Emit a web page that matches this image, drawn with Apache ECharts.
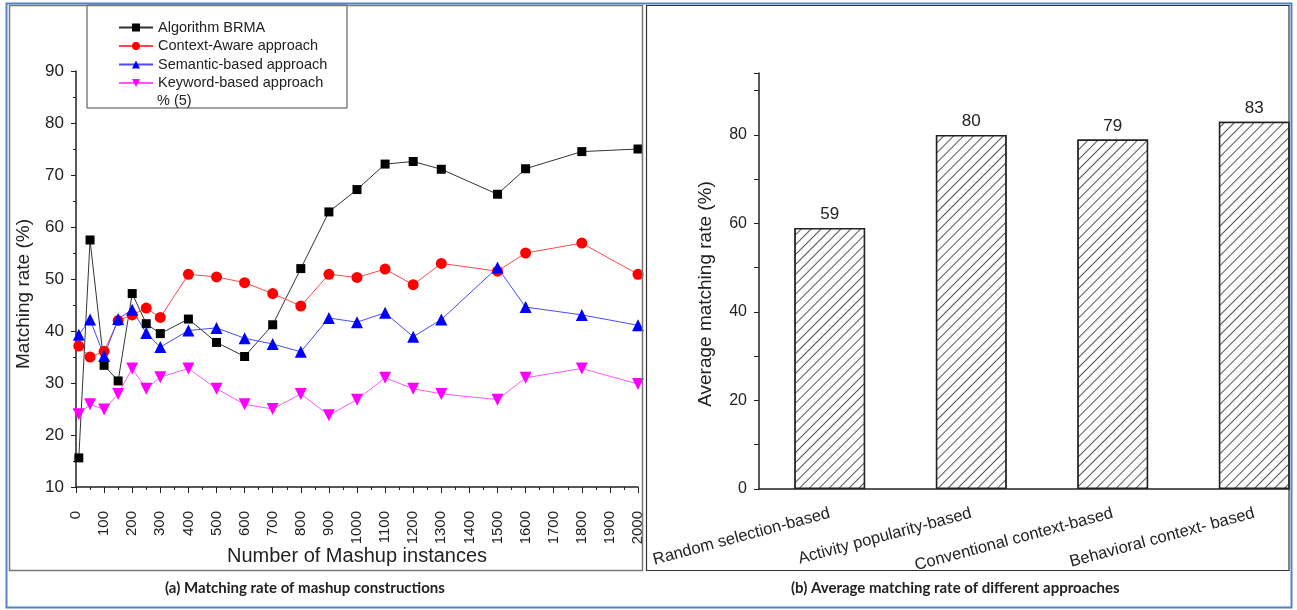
<!DOCTYPE html>
<html>
<head>
<meta charset="utf-8">
<title>Matching rate</title>
<script src="https://cdn.jsdelivr.net/npm/echarts@6/dist/echarts.min.js"></script>
<style>
  html, body { margin: 0; padding: 0; background: #fff; }
  #chart { width: 1297px; height: 610px; }
</style>
</head>
<body>
<div id="chart"></div>
<script>
// (a) matching rate vs number of mashup instances
const instances = [10, 50, 100, 150, 200, 250, 300, 400, 500, 600, 700, 800, 900, 1000, 1100, 1200, 1300, 1500, 1600, 1800, 2000]
const brma = [15.6, 57.5, 33.4, 30.4, 47.2, 41.4, 39.5, 42.3, 37.8, 35.1, 41.2, 52.0, 62.9, 67.2, 72.1, 72.6, 71.1, 66.3, 71.2, 74.5, 75.0]
const contextAware = [37.1, 35.0, 36.1, 42.0, 43.1, 44.4, 42.6, 50.9, 50.4, 49.3, 47.2, 44.8, 50.9, 50.3, 51.9, 48.9, 53.0, 51.5, 55.0, 56.9, 50.9]
const semantic = [39.3, 42.2, 35.2, 42.3, 44.1, 39.6, 36.9, 40.1, 40.6, 38.6, 37.5, 36.0, 42.5, 41.7, 43.5, 38.9, 42.2, 52.2, 44.6, 43.1, 41.1]
const keyword = [24.0, 25.9, 24.9, 27.9, 32.8, 28.9, 31.1, 32.8, 28.9, 25.9, 25.0, 27.9, 23.8, 26.8, 31.0, 28.9, 27.9, 26.8, 31.0, 32.8, 29.8]

// (b) average matching rate per approach
const approaches = ['Random selection-based', 'Activity popularity-based', 'Conventional context-based', 'Behavioral context- based']
const avgRate = [59, 80, 79, 83]

const FONT = "'Liberation Sans', Arial, sans-serif"
const pairs = (ys) => instances.map((x, i) => [x, ys[i]])

const chart = echarts.init(document.getElementById('chart'))

const lineSeries = (name, ys, color, lineColor, symbol, size, rotate) => ({
  name,
  type: 'line',
  xAxisIndex: 0,
  yAxisIndex: 0,
  data: pairs(ys),
  symbol,
  symbolSize: size,
  symbolRotate: rotate || 0,
  clip: false,
  itemStyle: { color },
  lineStyle: { color: lineColor, width: 1 },
  emphasis: { disabled: true }
})

const option = {
  animation: false,
  textStyle: { fontFamily: FONT },
  legend: {
    left: 113,
    top: 15,
    orient: 'vertical',
    itemWidth: 34,
    itemHeight: 10,
    itemGap: 3.5,
    textStyle: { fontFamily: FONT, fontSize: 14.5, color: '#222' },
    data: ['Algorithm BRMA', 'Context-Aware approach', 'Semantic-based approach', 'Keyword-based approach']
  },
  grid: [
    { left: 76, width: 562, top: 71, bottom: 123, outerBoundsMode: 'none' },
    // the right plot runs past the panel edge; its tail is hidden by the frame
    { left: 759, width: 566, top: 73, bottom: 121, outerBoundsMode: 'none' }
  ],
  xAxis: [
    {
      type: 'value',
      gridIndex: 0,
      min: 0,
      max: 2000,
      interval: 100,
      name: 'Number of Mashup instances',
      nameLocation: 'middle',
      nameGap: 59,
      nameMoveOverlap: false,
      nameTextStyle: { fontFamily: FONT, fontSize: 20, color: '#222' },
      axisLine: { lineStyle: { color: '#222', width: 1.5 } },
      axisTick: { length: 6, lineStyle: { color: '#222' } },
      minorTick: { show: true, splitNumber: 2, length: 3, lineStyle: { color: '#222' } },
      splitLine: { show: false },
      axisLabel: {
        rotate: 90,
        fontSize: 15,
        color: '#222',
        margin: 24,
        fontFamily: FONT,
        formatter: (v) => String(v)
      }
    },
    {
      type: 'category',
      gridIndex: 1,
      data: approaches,
      axisLine: { lineStyle: { color: '#222', width: 1.5 } },
      axisTick: { length: 6, lineStyle: { color: '#222' } },
      axisLabel: { rotate: 15, fontSize: 16.5, color: '#222', margin: 24, fontFamily: FONT, interval: 0 }
    },
    {
      // extra ticks at the bar centres
      type: 'category',
      gridIndex: 1,
      position: 'bottom',
      data: approaches,
      axisLine: { show: false },
      axisTick: { alignWithLabel: true, length: 6, lineStyle: { color: '#222' } },
      axisLabel: { show: false }
    }
  ],
  yAxis: [
    {
      type: 'value',
      gridIndex: 0,
      min: 10,
      max: 90,
      interval: 10,
      name: 'Matching rate (%)',
      nameLocation: 'middle',
      nameGap: 43,
      nameMoveOverlap: false,
      nameTextStyle: { fontFamily: FONT, fontSize: 19, color: '#222', padding: [0, 30, 0, 0] },
      axisLine: { show: true, lineStyle: { color: '#222', width: 1.5 } },
      axisTick: { show: true, length: 5, lineStyle: { color: '#222' } },
      minorTick: { show: true, splitNumber: 2, length: 3, lineStyle: { color: '#222' } },
      splitLine: { show: false },
      axisLabel: { fontSize: 17, color: '#222', margin: 12, fontFamily: FONT }
    },
    {
      type: 'value',
      gridIndex: 1,
      min: 0,
      max: 94,
      interval: 10,
      name: 'Average matching rate (%)',
      nameLocation: 'middle',
      nameGap: 44,
      nameMoveOverlap: false,
      nameTextStyle: { fontFamily: FONT, fontSize: 19, color: '#222', padding: [0, 26, 0, 0] },
      axisLine: { show: true, lineStyle: { color: '#222', width: 1.5 } },
      axisTick: { show: true, length: 5, lineStyle: { color: '#222' } },
      splitLine: { show: false },
      axisLabel: {
        fontSize: 16,
        color: '#222',
        margin: 12,
        fontFamily: FONT,
        formatter: (v) => (v % 20 === 0 ? String(v) : '')
      }
    }
  ],
  series: [
    lineSeries('Algorithm BRMA', brma, '#000', '#333', 'rect', 9),
    lineSeries('Context-Aware approach', contextAware, '#ff0000', '#ff4a4a', 'circle', 11),
    lineSeries('Semantic-based approach', semantic, '#0000ff', '#4a4aff', 'triangle', 12),
    lineSeries('Keyword-based approach', keyword, '#ff00ff', '#ff55ff', 'triangle', 12, 180),
    {
      type: 'bar',
      xAxisIndex: 1,
      yAxisIndex: 1,
      data: avgRate,
      barWidth: '50%',
      itemStyle: {
        color: '#fff',
        borderColor: '#222',
        borderWidth: 1.5,
        decal: {
          symbol: 'rect',
          symbolSize: 1,
          dashArrayX: [1, 0],
          dashArrayY: [1, 6],
          rotation: -Math.PI / 4,
          color: '#555',
          backgroundColor: '#fff'
        }
      },
      label: {
        show: true,
        position: 'top',
        distance: 5,
        fontSize: 17,
        color: '#222',
        fontFamily: FONT
      },
      emphasis: { disabled: true }
    }
  ],
  graphic: [
    {
      type: 'rect',
      z: 90,
      shape: { x: 87, y: 5, width: 260, height: 103 },
      style: { fill: null, stroke: '#444', lineWidth: 1 }
    },
    {
      type: 'text',
      z: 90,
      left: 157,
      top: 93,
      style: { text: '% (5)', font: '14.5px ' + FONT, fill: '#222' }
    },
    {
      type: 'rect',
      z: 95,
      shape: { x: 1290, y: 0, width: 7, height: 610 },
      style: { fill: '#fff' }
    },
    {
      type: 'rect',
      z: 96,
      shape: { x: 9.5, y: 5.5, width: 633, height: 565 },
      style: { fill: null, stroke: '#777', lineWidth: 1.5 }
    },
    {
      type: 'rect',
      z: 96,
      shape: { x: 646.5, y: 5.5, width: 642.5, height: 565 },
      style: { fill: null, stroke: '#333', lineWidth: 1.2 }
    },
    {
      type: 'rect',
      z: 97,
      shape: { x: 6.5, y: 3.5, width: 1285, height: 604 },
      style: { fill: null, stroke: '#5284c6', lineWidth: 2 }
    },
    {
      type: 'text',
      z: 97,
      left: 165,
      top: 581,
      style: { text: '(a) Matching rate of mashup constructions', font: 'bold 15px Lato, sans-serif', fill: '#222' }
    },
    {
      type: 'text',
      z: 97,
      left: 791,
      top: 581,
      style: { text: '(b) Average matching rate of different approaches', font: 'bold 15px Lato, sans-serif', fill: '#222' }
    }
  ]
}

chart.setOption(option)

window.addEventListener('resize', () => {
  chart.resize()
})
</script>
</body>
</html>
